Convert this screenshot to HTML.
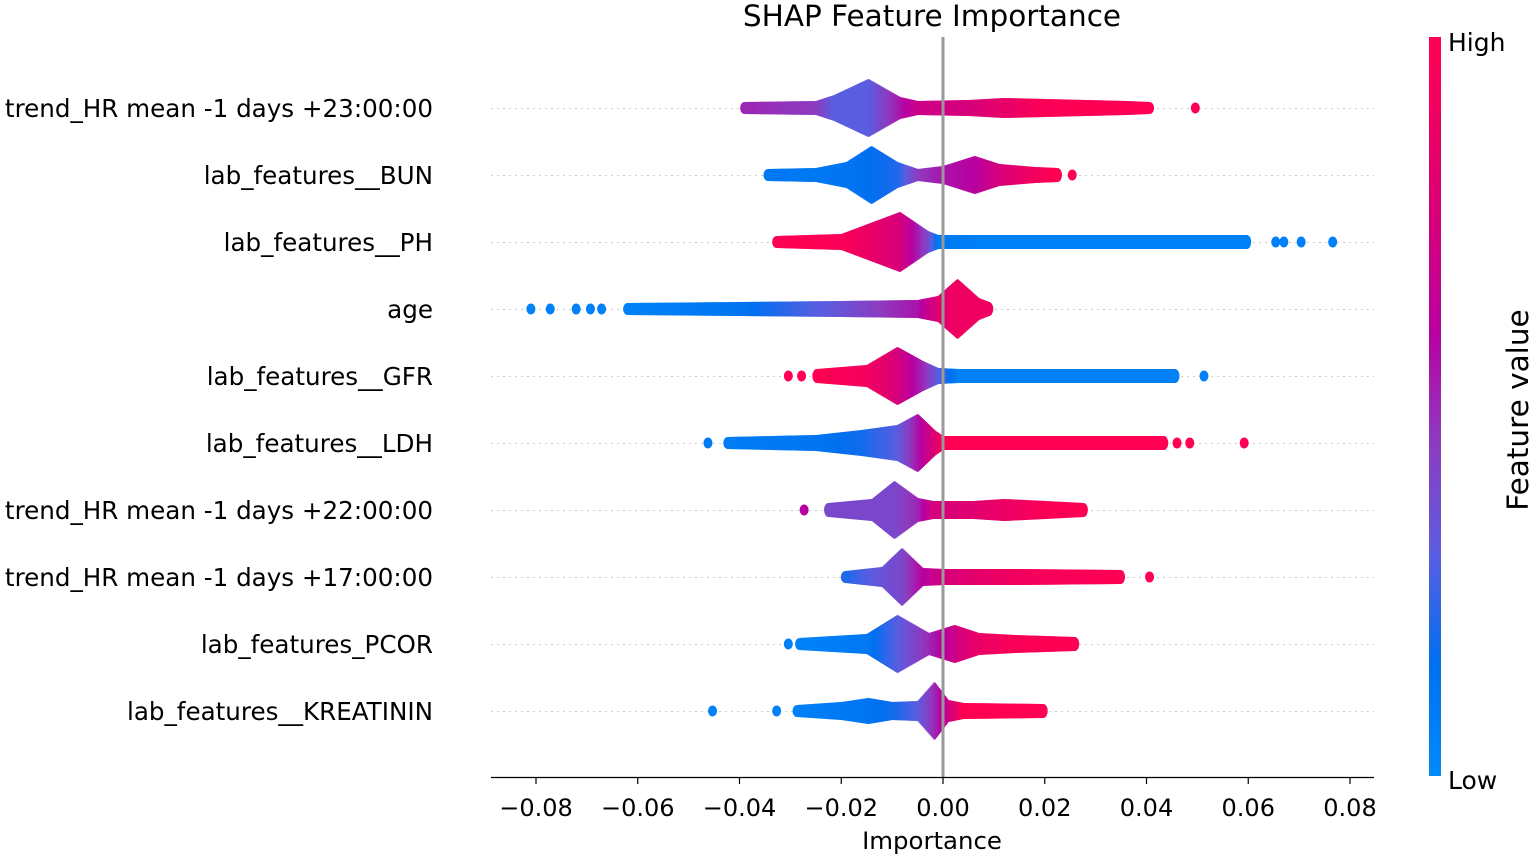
<!DOCTYPE html>
<html><head><meta charset="utf-8"><style>
body{margin:0;background:#fff}
svg text{font-family:"DejaVu Sans","Liberation Sans",sans-serif;fill:#000}
</style></head><body>
<svg id="chart" width="1534" height="857" viewBox="0 0 1534 857" xmlns="http://www.w3.org/2000/svg">
<defs>
<linearGradient id="cbar" x1="0" y1="1" x2="0" y2="0">
<stop offset="0" stop-color="rgb(0,138,250)"/><stop offset="0.15" stop-color="rgb(0,112,240)"/>
<stop offset="0.3" stop-color="rgb(90,93,224)"/><stop offset="0.45" stop-color="rgb(140,60,192)"/>
<stop offset="0.6" stop-color="rgb(184,0,160)"/><stop offset="0.8" stop-color="rgb(224,0,112)"/>
<stop offset="1" stop-color="rgb(255,0,82)"/>
</linearGradient>
</defs>
<text x="932" y="26" font-size="29.5" text-anchor="middle">SHAP Feature Importance</text>
<g id="grid"></g><g id="marks"></g>
<line x1="943" y1="37" x2="943" y2="777" stroke="#999" stroke-width="3"/>
<g id="labels"></g>
<line x1="491" y1="777.5" x2="1374" y2="777.5" stroke="#000" stroke-width="1.2"/>
<g id="xticks"></g>
<text x="932" y="849" font-size="24.4" text-anchor="middle">Importance</text>
<rect x="1429" y="37" width="12" height="739" fill="url(#cbar)"/>
<text x="1448" y="51" font-size="25">High</text>
<text x="1448" y="789" font-size="25">Low</text>
<text transform="translate(1528,410) rotate(-90)" font-size="29.5" text-anchor="middle">Feature value</text>
</svg>
<script>
const features = ["trend_HR mean -1 days +23:00:00","lab_features__BUN","lab_features__PH","age","lab_features__GFR","lab_features__LDH","trend_HR mean -1 days +22:00:00","trend_HR mean -1 days +17:00:00","lab_features_PCOR","lab_features__KREATININ"];
const xTicks = [-0.08,-0.06,-0.04,-0.02,0,0.02,0.04,0.06,0.08];
const xTickLabels = ["\u22120.08","\u22120.06","\u22120.04","\u22120.02","0.00","0.02","0.04","0.06","0.08"];
// profiles: [shap value, half-height (density), feature colour 0=low 1=high]
const prof0 = [[-0.039,6,0.5],[-0.025,7,0.45],[-0.0214,13,0.3],[-0.0147,29,0.3],[-0.0085,11,0.55],[-0.005,7,0.7],[0.005,8,0.75],[0.012,10,0.85],[0.02,9,0.97],[0.036,7,1],[0.0406,6,1]];
const prof1 = [[-0.0344,6,0.1],[-0.025,7,0.1],[-0.019,13,0.12],[-0.0141,29,0.15],[-0.009,13,0.2],[-0.005,6,0.45],[0.0,9,0.55],[0.0062,19,0.6],[0.011,11,0.75],[0.018,8,0.92],[0.0225,7,1]];
const prof2 = [[-0.0327,6,1],[-0.02,8,0.97],[-0.0085,30,0.75],[-0.003,11,0.4],[-0.001,7,0.1],[0.01,7,0.05],[0.0597,7,0.05]];
const prof3 = [[-0.062,6,0.05],[-0.04,7,0.12],[-0.02,8,0.35],[-0.005,9,0.55],[-0.001,13,0.8],[0.0028,30,0.9],[0.007,11,0.9],[0.009,7,0.9]];
const prof4 = [[-0.0248,7,1],[-0.015,11,0.92],[-0.009,29,0.75],[-0.004,15,0.5],[-0.001,8,0.3],[0.003,7,0.05],[0.0456,7,0.05]];
const prof5 = [[-0.0423,6,0.08],[-0.025,8,0.12],[-0.016,13,0.18],[-0.009,18,0.3],[-0.005,29,0.55],[-0.0015,12,0.8],[0.0,7,1],[0.0434,7,1]];
const prof6 = [[-0.0225,7,0.4],[-0.014,11,0.4],[-0.0096,29,0.4],[-0.005,12,0.5],[-0.002,9,0.75],[0.006,9,0.8],[0.012,11,0.88],[0.02,9,0.97],[0.0276,7,1]];
const prof7 = [[-0.0192,6,0.2],[-0.012,10,0.35],[-0.0081,29,0.4],[-0.004,9,0.6],[0.0,8,0.75],[0.015,8,0.92],[0.0349,7,1]];
const prof8 = [[-0.0282,6,0.05],[-0.015,10,0.1],[-0.009,29,0.3],[-0.0028,11,0.5],[0.0023,19,0.7],[0.007,11,0.87],[0.014,9,0.97],[0.0259,7,1]];
const prof9 = [[-0.0287,6,0.05],[-0.02,9,0.1],[-0.0147,13,0.12],[-0.01,9,0.18],[-0.005,10,0.3],[-0.0017,29,0.5],[0.001,11,0.7],[0.004,8,1],[0.0197,7,1]];
const profiles = [prof0,prof1,prof2,prof3,prof4,prof5,prof6,prof7,prof8,prof9];
// outlier points: [shap value, colour]
const out0 = [[-0.0375,0.5],[0.0496,1]];
const out1 = [[0.0254,1]];
const out2 = [[0.0654,0.05],[0.067,0.05],[0.0704,0.05],[0.0766,0.05]];
const out3 = [[-0.081,0.05],[-0.0772,0.05],[-0.0721,0.05],[-0.0693,0.05],[-0.0671,0.05]];
const out4 = [[-0.0304,1],[-0.0278,1],[0.0513,0.05]];
const out5 = [[-0.0462,0.1],[0.046,1],[0.0485,1],[0.0592,1]];
const out6 = [[-0.0273,0.6]];
const out7 = [[0.0406,1]];
const out8 = [[-0.0304,0.05]];
const out9 = [[-0.0453,0.05],[-0.0327,0.05]];
const outliers = [out0,out1,out2,out3,out4,out5,out6,out7,out8,out9];

const NS="http://www.w3.org/2000/svg";
const xScale = v => 943 + v*5087.5;
const yRow = i => 108 + i*67;
const cStops=[[0,0,138,250],[0.15,0,112,240],[0.3,90,93,224],[0.45,140,60,192],[0.6,184,0,160],[0.8,224,0,112],[1,255,0,82]];
function col(t){t=Math.max(0,Math.min(1,t));for(let k=1;k<cStops.length;k++){if(t<=cStops[k][0]){const a=cStops[k-1],b=cStops[k],f=(t-a[0])/(b[0]-a[0]);return `rgb(${Math.round(a[1]+f*(b[1]-a[1]))},${Math.round(a[2]+f*(b[2]-a[2]))},${Math.round(a[3]+f*(b[3]-a[3]))})`;}}return "rgb(255,0,82)";}
function mk(tag,attrs,parent){const e=document.createElementNS(NS,tag);for(const k in attrs)e.setAttribute(k,attrs[k]);parent.appendChild(e);return e;}
const grid=document.getElementById('grid'),marks=document.getElementById('marks'),labels=document.getElementById('labels'),xt=document.getElementById('xticks');
features.forEach((f,i)=>{
  const y=yRow(i);
  const gl=mk('line',{x1:491,x2:1374,y1:y+0.5,y2:y+0.5,stroke:'#ccc','stroke-width':1,'stroke-dasharray':'2,4'},grid);
  
  
  const t=mk('text',{x:433,y:y+9,'font-size':24.6,'text-anchor':'end'},labels);
  t.textContent=f;
  
  
  const g=mk('g',{},marks);
  
  
  const p=profiles[i];
  const x0=xScale(p[0][0]),x1=xScale(p[p.length-1][0]);
  for(let px=x0;px<=x1;px+=1){
    const v=(px-943)/5087.5;
    let k=1;while(k<p.length-1&&v>p[k][0])k++;
    const a=p[k-1],b=p[k],fr=Math.max(0,Math.min(1,(v-a[0])/(b[0]-a[0])));
    const h=a[1]+fr*(b[1]-a[1]),c=a[2]+fr*(b[2]-a[2]);
    const r=mk('rect',{x:px-0.5,y:y-h,width:1.6,height:2*h,fill:col(c)},g);
    
    
  }
  [[x0,p[0]],[x1,p[p.length-1]]].forEach(([cx,q])=>{
    const e=mk('ellipse',{cx:cx,cy:y,rx:4.5,ry:q[1],fill:col(q[2])},g);
    
    
  });
  outliers[i].forEach(o=>{
    const e=mk('ellipse',{cx:xScale(o[0]),cy:y,rx:4.5,ry:5.5,fill:col(o[1])},g);
    
    
  });
});
xTicks.forEach((v,i)=>{
  const x=xScale(v);
  const l=mk('line',{x1:x,x2:x,y1:777,y2:784,stroke:'#000','stroke-width':1.2},xt);
  
  
  const t=mk('text',{x:x,y:816,'font-size':24,'text-anchor':'middle'},xt);
  t.textContent=xTickLabels[i];
  
  
});
</script>
</body></html>
